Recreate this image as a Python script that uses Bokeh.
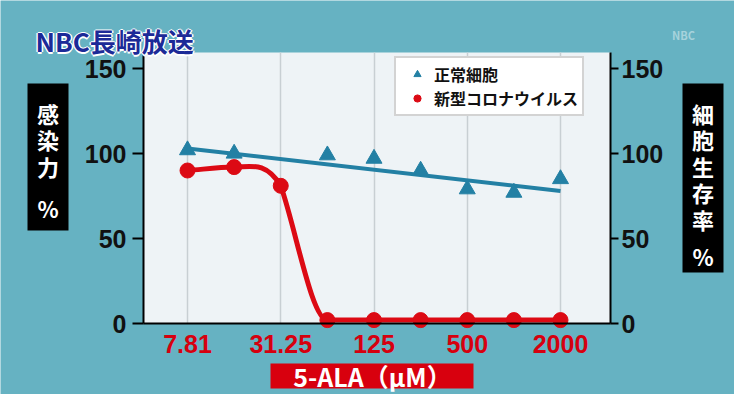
import numpy as np
from bokeh.plotting import figure
from bokeh.models import (Range1d, LinearAxis, FixedTicker, Label, BoxAnnotation,
                          Legend, LegendItem, Grid)
from bokeh.embed import file_html
from bokeh.resources import INLINE

# ---------------- data ----------------
conc = [7.8125, 15.625, 31.25, 62.5, 125, 250, 500, 1000, 2000]   # 5-ALA (uM)
normal_cells = [102, 100, np.nan, 99, 97, 90, 79, 77, 85]        # 細胞生存率 %
virus = [90, 92, 81, 2, 2, 2, 2, 2, 2]                            # 感染力 %
trend_conc = [7.8125, 2000]
trend_normal = [103, 78]
tick_conc = [7.8125, 31.25, 125, 500, 2000]
tick_labels = ["7.81", "31.25", "125", "500", "2000"]
y_ticks = [0, 50, 100, 150]

BLUE = "#2380a4"
RED = "#dc0a14"
BG = "#66b2c2"

W, H = 734, 394
# plot area in canvas pixels
FL, FR, FT, FB = 143, 610, 52, 323
X0PX, STEP = 187, (560 - 187) / 8.0       # pixel of first concentration, px per doubling
PXU = (323 - 68) / 150.0                   # px per % unit


def dx(px):
    return (px - X0PX) / STEP


def dy(py):
    return (FB - py) / PXU


xs = np.log2(np.array(conc) / conc[0])
tick_pos = [int(round(v)) for v in np.log2(np.array(tick_conc) / conc[0])]
trend_x = np.log2(np.array(trend_conc) / conc[0])

# the frame fills the whole canvas; axes are pinned with fixed_location
p = figure(width=W, height=H, output_backend="svg", toolbar_location=None,
           x_range=Range1d(dx(0), dx(W)), y_range=Range1d(dy(H), dy(0)),
           x_axis_location=None, y_axis_location=None,
           min_border_left=0, min_border_right=0,
           min_border_top=0, min_border_bottom=0)
p.border_fill_color = BG
p.background_fill_color = BG
p.outline_line_color = None
for g in p.grid:
    g.visible = False

# plot area background
p.add_layout(BoxAnnotation(left=dx(FL), right=dx(FR), top=dy(FT), bottom=dy(FB),
                           fill_color="#eef3f6", fill_alpha=1, line_color=None,
                           level="underlay"))

xticker = FixedTicker(ticks=tick_pos)
if "cross_bounds" in Grid.properties():
    p.add_layout(Grid(dimension=0, ticker=xticker, grid_line_color="#c8cfd3",
                      grid_line_width=1.5, cross_bounds=(dy(FB), dy(FT))))
else:
    p.segment(x0=tick_pos, x1=tick_pos, y0=[dy(FB)] * len(tick_pos),
              y1=[dy(FT)] * len(tick_pos), line_color="#c8cfd3", line_width=1.5,
              level="underlay")


def style_y(ax, tick_out, standoff):
    ax.ticker = FixedTicker(ticks=y_ticks)
    ax.bounds = (dy(FB), dy(FT))
    ax.axis_line_color = "black"
    ax.axis_line_width = 2
    ax.major_tick_out = tick_out
    ax.major_tick_in = 0
    ax.major_tick_line_width = 2
    ax.minor_tick_line_color = None
    ax.major_label_standoff = standoff
    ax.major_label_text_font = "Liberation Sans"
    ax.major_label_text_font_style = "bold"
    ax.major_label_text_font_size = "25px"
    ax.major_label_text_color = "#111111"


left = LinearAxis(fixed_location=dx(FL))
style_y(left, 11, 6)
p.add_layout(left, "left")
right = LinearAxis(fixed_location=dx(FR))
style_y(right, 8, 3)
p.add_layout(right, "right")

bottom = LinearAxis(ticker=xticker, fixed_location=dy(FB), bounds=(dx(FL), dx(FR)),
                    major_label_overrides={t: l for t, l in zip(tick_pos, tick_labels)})
bottom.axis_line_color = "black"
bottom.axis_line_width = 2
bottom.major_tick_line_color = None
bottom.minor_tick_line_color = None
bottom.major_label_standoff = 5
bottom.major_label_text_font = "Liberation Sans"
bottom.major_label_text_font_style = "bold"
bottom.major_label_text_font_size = "25px"
bottom.major_label_text_color = "#d6000f"
p.add_layout(bottom, "below")

# ---------------- normal cells ----------------
p.line(trend_x, trend_normal, line_color=BLUE, line_width=4)
tri = p.scatter(xs, normal_cells, marker="triangle", size=16, fill_color=BLUE,
                line_color=BLUE)

# ---------------- virus: smooth curve through points ----------------
vy = np.array(virus, dtype=float)
d = np.diff(vy) / np.diff(xs)
n = len(vy)
bx0, by0, bx1, by1, cx0, cy0, cx1, cy1 = ([] for _ in range(8))
for i in range(n - 1):
    h = xs[i + 1] - xs[i]
    if i == 0:
        mo = d[0]
    elif d[i - 1] * d[i] <= 0:
        mo = 0.0
    else:
        mo = d[i]
    j = i + 1
    if j == n - 1:
        mi = d[n - 2]
    elif d[j - 1] * d[j] <= 0:
        mi = 0.0
    else:
        mi = (d[j - 1] + d[j]) / 2
    bx0.append(xs[i]); by0.append(vy[i]); bx1.append(xs[j]); by1.append(vy[j])
    cx0.append(xs[i] + h / 3); cy0.append(vy[i] + mo * h / 3)
    cx1.append(xs[j] - h / 3); cy1.append(vy[j] - mi * h / 3)
p.bezier(x0=bx0, y0=by0, x1=bx1, y1=by1, cx0=cx0, cy0=cy0, cx1=cx1, cy1=cy1,
         line_color=RED, line_width=5, line_cap="round")
circ = p.scatter(xs, virus, marker="circle", size=15, fill_color=RED, line_color=RED)

legend = Legend(items=[LegendItem(label="正常細胞", renderers=[tri]),
                       LegendItem(label="新型コロナウイルス", renderers=[circ])],
                location=(394, H - 116))
legend.label_text_font = "Noto Sans CJK JP"
legend.label_text_font_style = "bold"
legend.label_text_font_size = "16px"
legend.label_text_color = "#111111"
legend.background_fill_color = "white"
legend.background_fill_alpha = 1
legend.border_line_color = "#a8a8a8"
legend.border_line_width = 2
legend.padding = 4
legend.spacing = 0
legend.glyph_width = 34
legend.glyph_height = 18
legend.label_height = 18
legend.label_standoff = 0
p.add_layout(legend)


# ---------------- decorations ----------------
def box(l, r, t, b, color):
    p.add_layout(BoxAnnotation(left=dx(l), right=dx(r), top=dy(t), bottom=dy(b),
                               fill_color=color, fill_alpha=1, line_color=None))


def label(px, py, text, size, color, align="center", font="Noto Sans CJK JP",
          style="bold", xo=0, yo=0):
    p.add_layout(Label(x=dx(px), y=dy(py), text=text, text_align=align,
                       text_baseline="middle", text_font=font,
                       text_font_style=style, text_font_size=size,
                       text_color=color, x_offset=xo, y_offset=yo))


left_title = ["感", "染", "力"]
right_title = ["細", "胞", "生", "存", "率"]
box(27, 68, 83, 230, "black")
for k, ch in enumerate(left_title):
    label(47.5, 112 + 26.5 * k, ch, "22px", "white")
label(47.5, 207, "%", "22px", "white")
box(682, 723, 83, 272, "black")
for k, ch in enumerate(right_title):
    label(702.5, 112 + 26.5 * k, ch, "22px", "white")
label(702.5, 255, "%", "22px", "white")

box(270, 473, 363, 388, "#d8000e")
label(372, 375, "5-ALA（μM）", "25px", "white")

logo = "NBC長崎放送"
for ox, oy in [(-1.5, 0), (1.5, 0), (0, -1.5), (0, 1.5)]:
    label(35, 40, logo, "26px", "white", align="left", xo=ox, yo=oy)
label(35, 40, logo, "26px", "#1c2a97", align="left")
label(683, 34, "NBC", "11px", "#a6d3dc")

open("out.html", "w").write(file_html(p, INLINE))
